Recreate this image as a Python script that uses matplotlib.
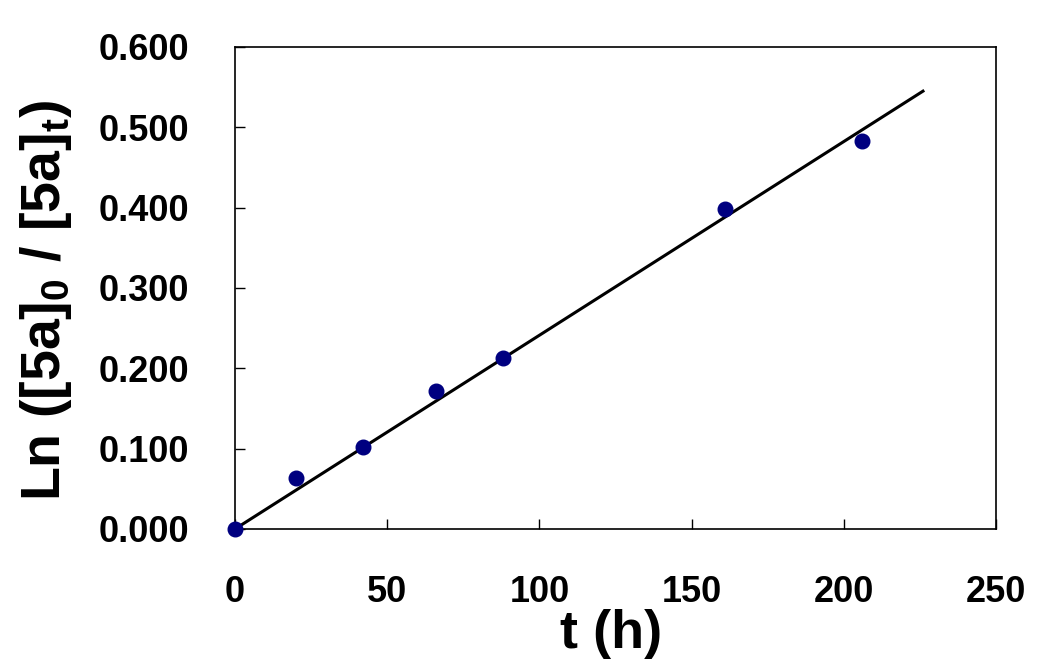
import matplotlib
matplotlib.use("Agg")
import matplotlib.pyplot as plt
import numpy as np
from matplotlib.ticker import FormatStrFormatter

# dane
t_h = [0, 20, 42, 66, 88, 161, 206]
ln_ratio = [0.000, 0.064, 0.102, 0.172, 0.213, 0.398, 0.483]
fit_end = 226  # koniec linii trendu (h)

x_ticks = [0, 50, 100, 150, 200, 250]
y_ticks = [0.0, 0.1, 0.2, 0.3, 0.4, 0.5, 0.6]

plt.rcParams["font.family"] = ["Liberation Sans", "DejaVu Sans"]
plt.rcParams["mathtext.fontset"] = "custom"
plt.rcParams["mathtext.rm"] = "Liberation Sans"

x = np.array(t_h, dtype=float)
y = np.array(ln_ratio)
slope = (x * y).sum() / (x * x).sum()  # regresja przez zero

fig = plt.figure(figsize=(10.5, 6.68), dpi=100)
ax = fig.add_axes([0.2238, 0.2081, 0.7248, 0.7216])

xf = np.array([0, fit_end])
ax.plot(xf, slope * xf, color="black", lw=2.2)
ax.plot(x, y, "o", color="#000080", ms=10.5, zorder=3, clip_on=False)

ax.set_xlim(0, 250)
ax.set_ylim(0, 0.6)
ax.set_xticks(x_ticks)
ax.set_yticks(y_ticks)
ax.yaxis.set_major_formatter(FormatStrFormatter("%.3f"))
ax.tick_params(direction="in", length=7, width=1, labelsize=26)
ax.tick_params(axis="y", pad=33)
ax.tick_params(axis="x", pad=33)
for lab in ax.get_xticklabels() + ax.get_yticklabels():
    lab.set_fontweight("bold")
for s in ax.spines.values():
    s.set_linewidth(1.2)

ax.set_xlabel("t (h)", fontsize=39, fontweight="bold")
ax.set_ylabel(r"Ln ([5a]$_\mathregular{0}$ / [5a]$_\mathregular{t}$)",
              fontsize=40, fontweight="bold")
ax.xaxis.set_label_coords(0.494, -0.165)
ax.yaxis.set_label_coords(-0.211, 0.475)

fig.savefig("out.png", dpi=100)
